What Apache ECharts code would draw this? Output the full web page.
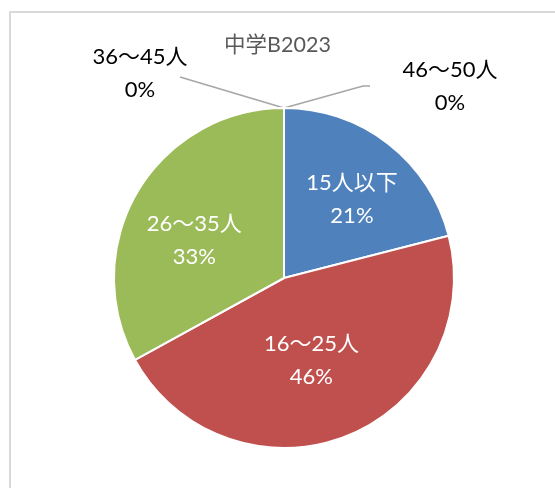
<!DOCTYPE html>
<html>
<head>
<meta charset="utf-8">
<style>
html,body{margin:0;padding:0;background:#fff;}
#c{width:555px;height:488px;}
</style>
<script src="https://cdn.jsdelivr.net/npm/echarts@6/dist/echarts.min.js"></script>
</head>
<body>
<div id="c"></div>
<script>
const titleText = '中学B2023';
const categories = ['15人以下', '16〜25人', '26〜35人', '36〜45人', '46〜50人'];
const percents = [21, 46, 33, 0, 0];

const colors = ['#4F81BD', '#C0504D', '#9BBB59', '#8064A2', '#4BACC6'];
const insideOffsets = [[14, -9], [-5, 1], [-14, 7], [0, 0], [0, 0]];
const FONT = 'Lato, "Noto Sans CJK JP", sans-serif';
const CX = 284, CY = 278, R = 170;

const chart = echarts.init(document.getElementById('c'), null, {renderer: 'canvas'});

const data = categories.map((name, i) => {
  const zero = percents[i] === 0;
  return {
    name: name,
    value: percents[i],
    itemStyle: {color: colors[i]},
    label: zero ? {
      position: 'outside',
      color: '#000000'
    } : {
      position: 'inside',
      color: '#ffffff',
      offset: insideOffsets[i]
    },
    labelLine: {show: zero}
  };
});

chart.setOption({
  animation: false,
  backgroundColor: '#ffffff',
  title: {
    text: titleText,
    left: 'center',
    top: 34,
    padding: [0, 0, 0, 11],
    textStyle: {fontFamily: FONT, fontSize: 21.5, fontWeight: 'normal', color: '#595959', lineHeight: 22}
  },
  graphic: [{
    type: 'rect',
    shape: {x: 10, y: 12, width: 700, height: 700},
    style: {fill: 'none', stroke: '#d9d9d9', lineWidth: 2},
    silent: true
  }],
  series: [{
    type: 'pie',
    center: [CX, CY],
    radius: R,
    startAngle: 90,
    clockwise: true,
    avoidLabelOverlap: false,
    itemStyle: {borderColor: '#ffffff', borderWidth: 2},
    label: {
      formatter: '{b}\n{d}%',
      fontFamily: FONT,
      fontSize: 22,
      lineHeight: 33,
      align: 'center'
    },
    labelLine: {
      lineStyle: {color: '#a6a6a6', width: 1.5}
    },
    labelLayout: function (p) {
      const tx = CX, ty = CY - R;
      if (p.dataIndex === 3) {
        return {
          x: tx - 144, y: ty - 34.5, align: 'center', verticalAlign: 'middle',
          labelLinePoints: [[tx, ty], [tx - 52, ty - 15.5], [tx - 104, ty - 31]]
        };
      }
      if (p.dataIndex === 4) {
        return {
          x: tx + 166, y: ty - 22, align: 'center', verticalAlign: 'middle',
          labelLinePoints: [[tx, ty], [tx + 79, ty - 22], [tx + 86, ty - 22]]
        };
      }
      return {};
    },
    data: data
  }]
});
</script>
</body>
</html>
